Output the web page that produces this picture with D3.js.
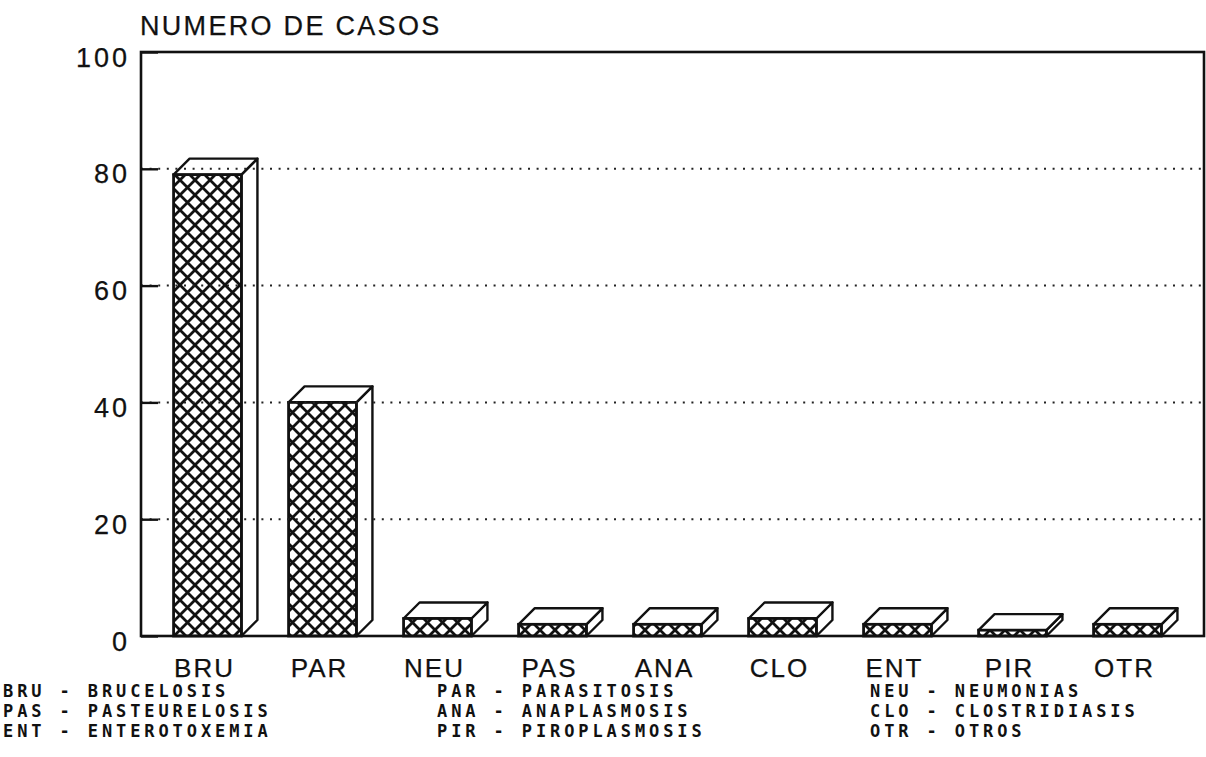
<!DOCTYPE html>
<html>
  <head>
    <meta charset="utf-8">
    <title>Numero de casos</title>
    <script src="https://d3js.org/d3.v7.min.js"></script>
    <style>
      body { margin: 0; background: #fff; }
      #chart { display: block; width: 1206px; height: 757px; background: #fff; }
      .plotter { font-family: "Liberation Sans", Arial, sans-serif; fill: #111; stroke: #111; stroke-width: 0.25px; }
      .legend text { font-family: "DejaVu Sans Mono", monospace; font-weight: bold; font-size: 17px; letter-spacing: 3.9px; fill: #111; }
    </style>
  </head>
  <body>
    <svg id="chart">
      <defs>
        <pattern id="hatch" patternUnits="userSpaceOnUse" width="15" height="15">
          <rect width="15" height="15" fill="#fff"></rect>
          <path d="M0,0L15,15M15,0L0,15M-2,13L2,17M13,-2L17,2M13,17L17,13M-2,2L2,-2" stroke="#111" stroke-width="2.8"></path>
        </pattern>
      </defs>
      <g id="barGroup"></g>
      <g id="gridGroup"></g>
      <g id="axisGroup"></g>
      <g id="labelGroup"></g>
      <g id="legendGroup" class="legend"></g>
    </svg>
    <script>
      // data
      var codes = ["BRU", "PAR", "NEU", "PAS", "ANA", "CLO", "ENT", "PIR", "OTR"];
      var names = ["BRUCELOSIS", "PARASITOSIS", "NEUMONIAS", "PASTEURELOSIS", "ANAPLASMOSIS", "CLOSTRIDIASIS", "ENTEROTOXEMIA", "PIROPLASMOSIS", "OTROS"];
      var casos = [79, 40, 3, 2, 2, 3, 2, 1, 2];
      var yTicks = [0, 20, 40, 60, 80, 100];
      var gridTicks = [20, 40, 60, 80];
      var title = "NUMERO DE CASOS";

      // page elements
      var margin = { top: 52, right: 2, bottom: 121, left: 141 };
      var width = 1206, height = 757;
      var depth = 16;
      var chart = d3.select("#chart");

      // scales
      var x = d3.scaleBand()
        .domain(codes)
        .range([150, 1185])
        .paddingInner(0.41)
        .paddingOuter(0.205);
      var y = d3.scaleLinear()
        .domain([0, 100])
        .range([height - margin.bottom, margin.top]);

      // 3d bars
      var bars = d3.select("#barGroup")
        .selectAll(".bar")
          .data(codes.map(function(c, i) { return { code: c, value: casos[i] }; }))
        .enter().append("g")
          .classed("bar", true);
      bars.append("path") // side face
        .attr("d", function(d) {
          var x1 = x(d.code) + x.bandwidth(), y0 = y(0), y1 = y(d.value);
          return "M" + x1 + "," + y0 + "L" + (x1 + depth) + "," + (y0 - depth) + "L" + (x1 + depth) + "," + (y1 - depth) + "L" + x1 + "," + y1 + "Z";
        })
        .attr("fill", "#fff")
        .attr("stroke", "#111")
        .attr("stroke-width", 2.4)
        .attr("stroke-linejoin", "round");
      bars.append("path") // top face
        .attr("d", function(d) {
          var x0 = x(d.code), x1 = x0 + x.bandwidth(), y1 = y(d.value);
          return "M" + x0 + "," + y1 + "L" + (x0 + depth) + "," + (y1 - depth) + "L" + (x1 + depth) + "," + (y1 - depth) + "L" + x1 + "," + y1 + "Z";
        })
        .attr("fill", "#fff")
        .attr("stroke", "#111")
        .attr("stroke-width", 2.4)
        .attr("stroke-linejoin", "round");
      bars.append("rect") // front face
        .attr("x", function(d) { return x(d.code); })
        .attr("y", function(d) { return y(d.value); })
        .attr("width", x.bandwidth())
        .attr("height", function(d) { return y(0) - y(d.value); })
        .attr("fill", "url(#hatch)")
        .attr("stroke", "#111")
        .attr("stroke-width", 2.8);

      // dotted grid on top of bars
      d3.select("#gridGroup")
        .selectAll("line")
          .data(gridTicks)
        .enter().append("line")
          .attr("x1", margin.left)
          .attr("x2", width - margin.right)
          .attr("y1", function(d) { return y(d); })
          .attr("y2", function(d) { return y(d); })
          .attr("stroke", "#222")
          .attr("stroke-width", 2)
          .attr("stroke-dasharray", "2,6.6");

      // frame and axes
      var axisGroup = d3.select("#axisGroup");
      axisGroup.append("rect")
        .attr("x", margin.left)
        .attr("y", margin.top)
        .attr("width", width - margin.right - margin.left)
        .attr("height", y(0) - margin.top)
        .attr("fill", "none")
        .attr("stroke", "#111")
        .attr("stroke-width", 2.6);
      var yAxis = d3.axisLeft(y)
        .tickValues(yTicks)
        .tickSizeInner(-17)
        .tickSizeOuter(0)
        .tickPadding(11);
      var yAxisGroup = axisGroup.append("g")
        .attr("transform", "translate(" + margin.left + ",0)")
        .call(yAxis);
      yAxisGroup.select(".domain").remove();
      yAxisGroup.selectAll(".tick line")
        .attr("stroke", "#111")
        .attr("stroke-width", 2.4);
      yAxisGroup.selectAll(".tick text")
        .attr("class", "plotter")
        .attr("dy", 14)
        .style("font-size", "27px")
        .style("letter-spacing", "3px");

      // title and category labels
      var labelGroup = d3.select("#labelGroup");
      labelGroup.append("text")
        .attr("class", "plotter")
        .attr("x", margin.left - 1)
        .attr("y", 35)
        .style("font-size", "27px")
        .style("letter-spacing", "2.3px")
        .text(title);
      labelGroup.selectAll(".cat")
        .data(codes)
        .enter().append("text")
          .attr("class", "plotter cat")
          .attr("x", function(d) { return x(d) + x.bandwidth() / 2 - 3; })
          .attr("y", 677)
          .attr("text-anchor", "middle")
          .style("font-size", "26px")
          .style("letter-spacing", "2px")
          .text(function(d) { return d; });

      // legend, three columns filled row by row
      var legendCols = [3, 437, 870];
      d3.select("#legendGroup")
        .selectAll("text")
          .data(codes)
        .enter().append("text")
          .attr("x", function(d, i) { return legendCols[i % 3]; })
          .attr("y", function(d, i) { return 697 + Math.floor(i / 3) * 20; })
          .attr("xml:space", "preserve")
          .text(function(d, i) { return d + " - " + names[i]; });
    </script>
  </body>
</html>
